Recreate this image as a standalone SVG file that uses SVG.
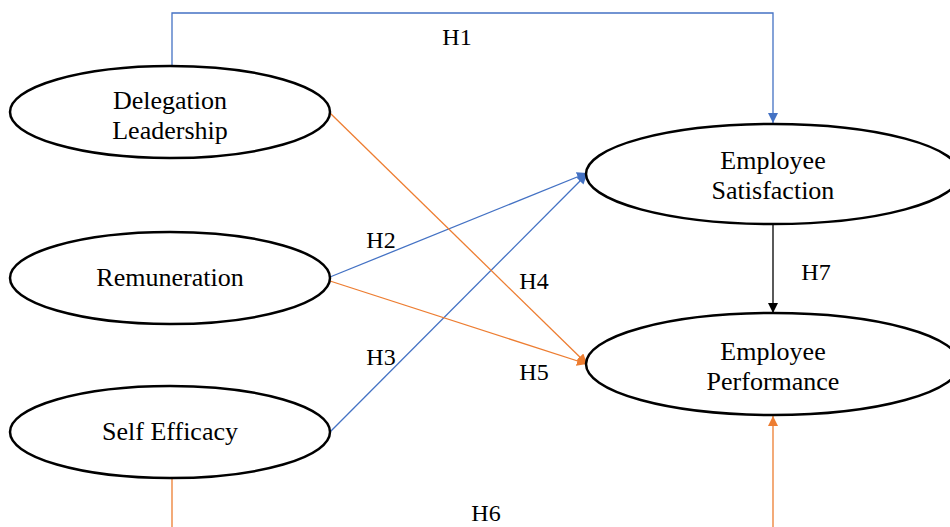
<svg xmlns="http://www.w3.org/2000/svg" width="950" height="527" viewBox="0 0 950 527">
<style>
.node ellipse{fill:#fff;stroke:#000;stroke-width:2.5}
text{font-family:"Liberation Serif","Times New Roman",serif;font-size:26px;fill:#000;text-anchor:middle}
.lbl{font-size:24px}
.blue{stroke:#4472C4;stroke-width:1.3;fill:none}
.orange{stroke:#ED7D31;stroke-width:1.3;fill:none}
.black{stroke:#000;stroke-width:1.3;fill:none}
</style>
<defs>
<marker id="ab" viewBox="0 0 10 10" refX="10" refY="5" markerWidth="10" markerHeight="10" markerUnits="userSpaceOnUse" orient="auto"><path d="M0,0L10,5L0,10z" fill="#4472C4"/></marker>
<marker id="ao" viewBox="0 0 10 10" refX="10" refY="5" markerWidth="10" markerHeight="10" markerUnits="userSpaceOnUse" orient="auto"><path d="M0,0L10,5L0,10z" fill="#ED7D31"/></marker>
<marker id="ak" viewBox="0 0 10 10" refX="10" refY="5" markerWidth="10" markerHeight="10" markerUnits="userSpaceOnUse" orient="auto"><path d="M0,0L10,5L0,10z" fill="#000"/></marker>
</defs>
<g id="connectors">
<polyline class="blue" points="172,66 172,13 773,13 773,123" marker-end="url(#ab)"/>
<line class="blue" x1="330" y1="277" x2="587" y2="173" marker-end="url(#ab)"/>
<line class="blue" x1="330" y1="432" x2="587" y2="174" marker-end="url(#ab)"/>
<line class="orange" x1="330" y1="113" x2="587" y2="364" marker-end="url(#ao)"/>
<line class="orange" x1="330" y1="281" x2="587" y2="364" marker-end="url(#ao)"/>
<line class="orange" x1="172" y1="478" x2="172" y2="527"/>
<line class="orange" x1="773" y1="527" x2="773" y2="416" marker-end="url(#ao)"/>
<line class="black" x1="773" y1="224" x2="773" y2="313" marker-end="url(#ak)"/>
<text class="lbl" x="457" y="45">H1</text>
<text class="lbl" x="381" y="248">H2</text>
<text class="lbl" x="381" y="365">H3</text>
<text class="lbl" x="534" y="289">H4</text>
<text class="lbl" x="534" y="380">H5</text>
<text class="lbl" x="486" y="521">H6</text>
<text class="lbl" x="816" y="280">H7</text>
</g>
<g id="delegation" class="node"><ellipse cx="170" cy="112" rx="160" ry="46"/><text x="170" y="109">Delegation</text><text x="170" y="139">Leadership</text></g>
<g id="remuneration" class="node"><ellipse cx="170" cy="278" rx="160" ry="46"/><text x="170" y="286">Remuneration</text></g>
<g id="selfefficacy" class="node"><ellipse cx="170" cy="432" rx="160" ry="46"/><text x="170" y="440">Self Efficacy</text></g>
<g id="satisfaction" class="node"><ellipse cx="773" cy="174" rx="187" ry="50"/><text x="773" y="169">Employee</text><text x="773" y="199">Satisfaction</text></g>
<g id="performance" class="node"><ellipse cx="773" cy="364" rx="187" ry="51"/><text x="773" y="360">Employee</text><text x="773" y="390">Performance</text></g>
</svg>
